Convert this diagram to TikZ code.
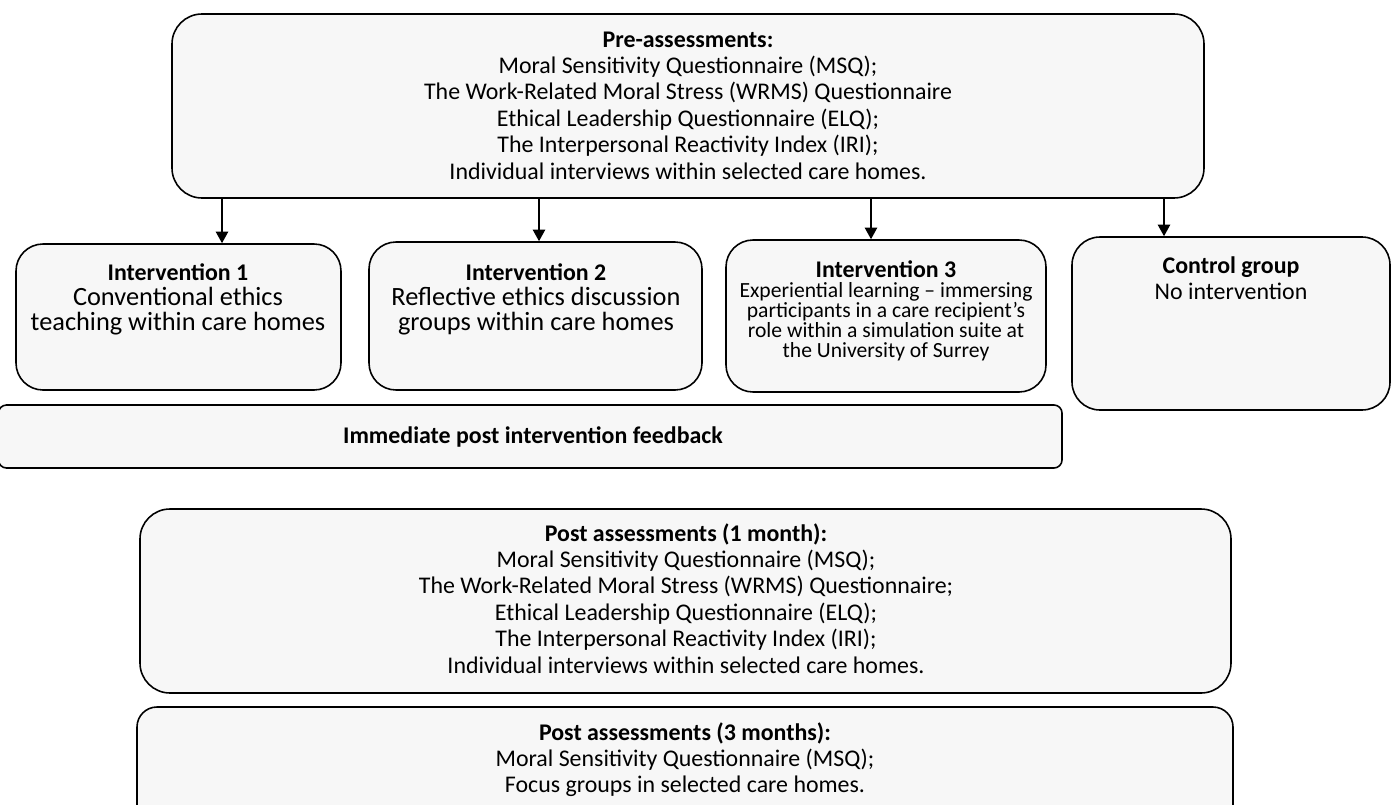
\documentclass[tikz,border=0pt]{standalone}
\usepackage{fontspec}
\setmainfont{Carlito}
\usetikzlibrary{arrows.meta,fit}
\definecolor{boxfill}{HTML}{F7F7F7}
\newcommand{\fl}{\rule{0pt}{11pt}}
\makeatletter
\tikzset{
  fitting node/.style={
    inner sep=0pt,
    fill=none,
    draw=none,
    reset transform,
    fit={(\pgf@pathminx,\pgf@pathminy) (\pgf@pathmaxx,\pgf@pathmaxy)}
  },
  reset transform/.code={\pgftransformreset},
  stage box/.style={draw=black, fill=boxfill, line width=0.9pt, rounded corners=#1},
  stage box/.default=0.54cm,
  stage text/.style={anchor=north, align=center, inner sep=0pt, font=\fontsize{13.6}{15}\selectfont},
  flow arrow/.style={-{Triangle[width=7pt,length=6.6pt]}, line width=1pt}
}
\makeatother
\begin{document}
\begin{tikzpicture}[x=0.02cm, y=-0.02cm]
  \useasboundingbox (0,0) rectangle (1397,805);

  \draw[stage box=0.6cm] (172,14) rectangle (1204,198) node[fitting node] (pre) {};
  \node (pre_label) [stage text] at (688,27.6) {\fl\textbf{Pre-assessments:}\\
    Moral Sensitivity Questionnaire (MSQ);\\
    The Work-Related Moral Stress (WRMS) Questionnaire\\
    Ethical Leadership Questionnaire (ELQ);\\
    The Interpersonal Reactivity Index (IRI);\\
    Individual interviews within selected care homes.};

  \draw[stage box] (16,244) rectangle (341,390) node[fitting node] (int1) {};
  \node (int1_label) [stage text, font=\fontsize{15}{14.2}\selectfont] at (178,260.6)
    {\fl{\fontsize{13.6}{14.2}\selectfont\bfseries Intervention 1}\\ Conventional ethics\\ teaching within care homes};

  \draw[stage box] (369,242) rectangle (702,390) node[fitting node] (int2) {};
  \node (int2_label) [stage text, font=\fontsize{15}{14.2}\selectfont] at (536,260.6)
    {\fl{\fontsize{13.6}{14.2}\selectfont\bfseries Intervention 2}\\ Reflective ethics discussion\\ groups within care homes};

  \draw[stage box] (726,240) rectangle (1046,392) node[fitting node] (int3) {};
  \node (int3_label) [stage text, font=\fontsize{12.3}{11.4}\selectfont] at (886,257.6)
    {\fl{\fontsize{13.6}{11.4}\selectfont\bfseries Intervention 3}\\
    Experiential learning – immersing\\ participants in a care recipient’s\\
    role within a simulation suite at\\ the University of Surrey};

  \draw[stage box=0.56cm] (1072,237) rectangle (1390,410) node[fitting node] (ctrl) {};
  \node (ctrl_label) [stage text, font=\fontsize{13.6}{14.7}\selectfont] at (1231,253.6)
    {\fl\textbf{Control group}\\ No intervention};

  \foreach \target/\ax in {int1/222, int2/539, int3/871, ctrl/1164}
    \draw[flow arrow] (pre.south -| \ax,0) -- (\target.north -| \ax,0);

  \draw[stage box=0.16cm] (-1.5,405) rectangle (1062,468) node[fitting node] (feedback) {};
  \node (feedback_label) [stage text, anchor=center] at (533,436.5)
    {\textbf{Immediate post intervention feedback}};

  \draw[stage box=0.6cm] (140,509) rectangle (1231,693) node[fitting node] (post1) {};
  \node (post1_label) [stage text] at (686,521.6) {\fl\textbf{Post assessments (1 month):}\\
    Moral Sensitivity Questionnaire (MSQ);\\
    The Work-Related Moral Stress (WRMS) Questionnaire;\\
    Ethical Leadership Questionnaire (ELQ);\\
    The Interpersonal Reactivity Index (IRI);\\
    Individual interviews within selected care homes.};

  \draw[stage box=0.4cm] (137,707) rectangle (1233,830) node[fitting node] (post3) {};
  \node (post3_label) [stage text] at (685,720.6) {\fl\textbf{Post assessments (3 months):}\\
    Moral Sensitivity Questionnaire (MSQ);\\
    Focus groups in selected care homes.};
\end{tikzpicture}
\end{document}
